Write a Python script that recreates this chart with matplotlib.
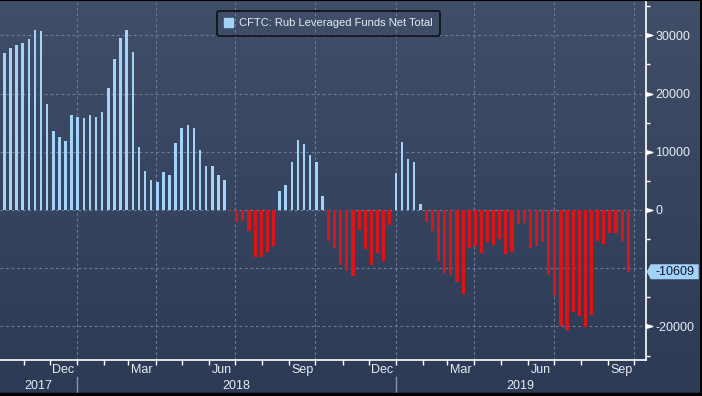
import matplotlib
matplotlib.use('Agg')
import matplotlib.pyplot as plt
import matplotlib.dates as mdates
from matplotlib.path import Path
from matplotlib.lines import Line2D
from matplotlib.patches import Polygon
import matplotlib.transforms as mtransforms
import numpy as np
import pandas as pd

plt.rcParams['font.family'] = ['Liberation Sans', 'DejaVu Sans']

# CFTC weekly data (as-of Tuesdays)
dates = pd.date_range('2017-10-10', periods=103, freq='7D')
net_total = [
    27050, 27850, 28350, 28700, 29400, 30950, 30750, 18200, 13600, 12550,
    11850, 16300, 16000, 15800, 16300, 16000, 16850, 20950, 25950, 29550,
    30950, 27150, 10800, 6700, 5150, 4800, 6550, 6000, 11500, 14100,
    14600, 14100, 10300, 7550, 7550, 6000, 5150,
    -150, -2000, -1850, -3550, -8150, -8000, -7300, -6150,
    3250, 4300, 8250, 12050, 11350, 9450, 8250, 2400,
    -5250, -6500, -9500, -10550, -11300, -3400, -6750, -9500, -7450, -8700, -2500,
    6350, 11700, 8750, 8250, 1050,
    -2000, -3550, -8700, -10900, -11200, -12450, -14450, -6500, -6150, -7450,
    -5450, -5950, -4950, -7500, -7150, -2350, -2200, -6500, -6150, -5450,
    -11150, -14750, -19900, -20600, -17500, -18200, -20100, -18000, -5300, -5800,
    -3900, -3900, -5300, -10609,
]
series_name = 'CFTC: Rub Leveraged Funds Net Total'
last_label = '-10609'

y_ticks = [30000, 20000, 10000, 0, -10000, -20000]
y_tick_labels = ['30000', '20000', '10000', '0', '', '-20000']
y_minor = [35000, 25000, 15000, 5000, -5000, -15000, -25000]
month_labels = ['Dec', 'Mar', 'Jun', 'Sep', 'Dec', 'Mar', 'Jun', 'Sep']
month_label_dates = pd.to_datetime(['2017-12-16', '2018-03-16', '2018-06-16', '2018-09-16',
                                    '2018-12-16', '2019-03-16', '2019-06-16', '2019-09-16'])
grid_dates = pd.to_datetime(['2018-01-01', '2018-04-01', '2018-07-01', '2018-10-01',
                             '2019-01-01', '2019-04-01', '2019-07-01', '2019-10-01'])
year_labels = ['2017', '2018', '2019']
year_breaks = pd.to_datetime(['2018-01-01', '2019-01-01'])

# colours
blue = '#a3d3f8'
red = '#dc1418'
grid_c = '#6c7d9a'
txt_c = '#e8ecf2'

x_min = pd.Timestamp('2017-10-05')
x_max = pd.Timestamp('2019-10-14')

fig = plt.figure(figsize=(7.02, 3.96), dpi=100)

# gradient background
bg = fig.add_axes([0, 0, 1, 1], zorder=0)
grad = np.linspace(0, 1, 256).reshape(-1, 1)
top_c = np.array([64, 78, 104]) / 255
bot_c = np.array([44, 58, 86]) / 255
img = top_c * (1 - grad[..., None]) + bot_c * grad[..., None]
bg.imshow(img, aspect='auto', extent=[0, 1, 0, 1])
bg.set_axis_off()

ax = fig.add_axes([0, 36 / 396, 645.7 / 702, 358.5 / 396], zorder=1)
ax.set_facecolor('none')

x = mdates.date2num(dates)
vals = np.array(net_total)
pos = vals >= 0
ax.bar(x[pos], vals[pos], width=2.9, color=blue, zorder=3)
ax.bar(x[~pos], vals[~pos], width=3.6, color=red, zorder=3)

ax.set_xlim(mdates.date2num(x_min), mdates.date2num(x_max))
ax.set_ylim(-25770, 35820)

# grid
for gy in y_ticks:
    ax.axhline(gy, color=grid_c, lw=0.8, ls=(0, (2.5, 2.5)), zorder=1)
for gd in grid_dates:
    ax.axvline(mdates.date2num(gd), color=grid_c, lw=0.8, ls=(0, (2.5, 2.5)), zorder=1)

# spines
for s in ['top', 'left']:
    ax.spines[s].set_visible(False)
ax.spines['right'].set_color('white')
ax.spines['bottom'].set_color('white')
ax.spines['right'].set_linewidth(1.2)
ax.spines['bottom'].set_linewidth(1.2)

# y axis on the right
ax.yaxis.tick_right()
ax.set_yticks(y_ticks)
ax.set_yticklabels(y_tick_labels)
ax.set_yticks(y_minor, minor=True)
ax.tick_params(axis='y', which='major', length=0, pad=7, labelsize=9, labelcolor=txt_c)
ax.tick_params(axis='y', which='minor', length=3, width=1, color='white', direction='out')

tri = Path([(0, -0.3), (1, 0), (0, 0.3), (0, -0.3)],
           [Path.MOVETO, Path.LINETO, Path.LINETO, Path.CLOSEPOLY])
ytrans = mtransforms.blended_transform_factory(ax.transAxes, ax.transData)
ax.plot([1] * 5, [30000, 20000, 10000, 0, -20000], ls='none', marker=tri,
        markersize=9, color='white', transform=ytrans, clip_on=False, zorder=5)

# x axis: month ticks, labels in the middle of the month
ax.xaxis.set_major_locator(mdates.MonthLocator())
ax.xaxis.set_major_formatter(plt.NullFormatter())
ax.set_xticks(mdates.date2num(month_label_dates), minor=True)
ax.set_xticklabels(month_labels, minor=True)
ax.tick_params(axis='x', which='major', length=3.5, width=1, color='white')
ax.tick_params(axis='x', which='minor', length=0, pad=3, labelsize=9, labelcolor=txt_c)

# year row
xtrans = ax.get_xaxis_transform()
edges = [x_min] + list(year_breaks) + [x_max]
for i, yl in enumerate(year_labels):
    mid = mdates.date2num(edges[i]) / 2 + mdates.date2num(edges[i + 1]) / 2
    ax.text(mid, -0.072, yl, transform=xtrans, ha='center', va='center',
            fontsize=9, color=txt_c)
for yb in year_breaks:
    ax.plot([mdates.date2num(yb)] * 2, [-0.047, -0.095], color='#8c95a8', lw=1,
            transform=xtrans, clip_on=False)

# last value tag (pixel offsets from the axis at the last value)
tag_trans = mtransforms.Affine2D() + mtransforms.ScaledTranslation(1, net_total[-1], ytrans)
tag = Polygon([(1, 0), (5, 7.5), (53, 7.5), (53, -7.5), (5, -7.5)], closed=True,
              fc=blue, ec='none', transform=tag_trans, clip_on=False, zorder=6)
ax.add_patch(tag)
ax.text(29, 0, last_label, transform=tag_trans, ha='center', va='center',
        fontsize=9, color='#10182a', zorder=7, clip_on=False)

# legend
leg = ax.legend([plt.Rectangle((0, 0), 1, 1, color=blue)], [series_name],
                loc='upper left', bbox_to_anchor=(0.3356, 0.9735), borderaxespad=0,
                fontsize=8, handlelength=0.81, handleheight=0.81, handletextpad=0.55,
                borderpad=0.65, frameon=True, fancybox=True)
leg.get_frame().set_facecolor('none')
leg.get_frame().set_edgecolor('black')
leg.get_frame().set_linewidth(1.2)
for t in leg.get_texts():
    t.set_color(txt_c)

# black frame on top/right/bottom
fig.add_artist(Line2D([0, 1], [0.999, 0.999], color='black', lw=1.5, transform=fig.transFigure))
fig.add_artist(Line2D([0.9986, 0.9986], [0, 1], color='black', lw=2, transform=fig.transFigure))
fig.add_artist(Line2D([0, 1], [0.004, 0.004], color='black', lw=2.5, transform=fig.transFigure))

fig.savefig('out.png', dpi=100)
